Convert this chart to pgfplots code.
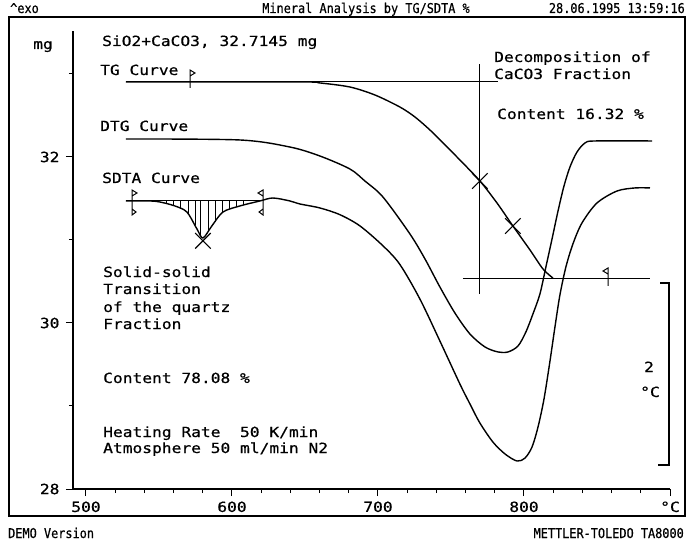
\documentclass[border=0pt]{standalone}
\usepackage{pgfplots}
\pgfplotsset{compat=1.18}
\usepackage{fontspec}
\newfontfamily\plotfont[FakeStretch=1.16,FakeBold=0.6]{DejaVu Sans Mono}
\newfontfamily\hdrfont[FakeStretch=0.88,FakeBold=0.5]{DejaVu Sans Mono}
\newcommand\pf{\plotfont\fontsize{14}{16}\selectfont}
\newcommand\hf{\hdrfont\fontsize{13.5}{16}\selectfont}
\begin{document}
\begin{tikzpicture}[x=1pt,y=1pt]
\useasboundingbox (0,0) rectangle (689,542);
\fill[white] (0,0) rectangle (689,542);
\begin{axis}[
  at={(73pt,53pt)}, anchor=south west,
  scale only axis, width=597pt, height=458pt,
  xmin=491.1, xmax=900, ymin=28, ymax=33.518,
  axis x line=bottom, axis y line=left,
  axis line style={-, line width=1.2pt},
  clip=false,
  xtick={500,600,700,800,900}, xticklabels={500,600,700,800,°C},
  minor xtick={520,540,560,580,620,640,660,680,720,740,760,780,820,840,860,880},
  ytick={28,30,32}, yticklabels={28,30,32}, minor ytick={29,31,33},
  tick align=outside, major tick length=7pt, minor tick length=4pt,
  tick style={black, line width=1pt},
  ticklabel style={font=\pf},
  xticklabel style={yshift=-2pt},
  yticklabel style={xshift=-3pt},
]
% TG curve
\addplot[black, line width=1.4pt, smooth] coordinates {
(527.3,32.904) (646.5,32.904) (660.2,32.892) (680.8,32.843) (697.9,32.747)
(715.0,32.602) (725.3,32.482) (735.6,32.325) (745.9,32.145) (756.1,31.964)
(769.8,31.711) (781.5,31.446) (792.4,31.169) (804.1,30.880) (813.0,30.651)
(819.8,30.542)};
% TG construction lines
\addplot[black, line width=1pt] coordinates {(527.3,32.904) (782.2,32.904)};
\addplot[black, line width=1pt] coordinates {(758.2,30.542) (886.3,30.542)};
\addplot[black, line width=1pt] coordinates {(769.8,33.120) (769.8,30.349)};
% DTG curve
\addplot[black, line width=1.4pt, smooth] coordinates {
(527.3,32.217) (605.4,32.205) (639.7,32.120) (660.2,32.012) (680.8,31.855)
(691.0,31.711) (703.4,31.518) (721.9,31.072) (732.2,30.771) (742.4,30.434)
(752.7,30.120) (763.0,29.867) (773.3,29.711) (782.2,29.651) (789.0,29.651)
(795.9,29.723) (801.3,29.892) (806.1,30.108) (810.9,30.349) (815.0,30.675)
(819.2,31.012) (823.3,31.349) (827.4,31.651) (831.5,31.880) (836.3,32.060)
(841.8,32.169) (848.6,32.193) (887.7,32.193)};
% SDTA curve
\addplot[black, line width=1.4pt, smooth, tension=0.5] coordinates {
(527.3,31.470) (543.8,31.470) (550.6,31.458) (560.9,31.410) (569.1,31.337)
(576.0,31.133) (580.1,31.024) (586.2,31.169) (593.8,31.337) (605.4,31.410)
(619.1,31.470) (628.0,31.506) (639.7,31.470) (646.5,31.434) (660.2,31.386)
(673.9,31.305) (687.6,31.170) (703.4,30.930) (715.0,30.705) (728.7,30.289)
(742.4,29.783) (756.1,29.265) (763.0,29.024) (769.8,28.795) (778.7,28.566)
(787.0,28.422) (795.2,28.337) (800.7,28.373) (805.5,28.506) (809.6,28.747)
(813.7,29.084) (817.8,29.542) (821.2,29.952) (824.6,30.337) (828.7,30.675)
(833.5,30.952) (839.7,31.205) (850.0,31.446) (863.7,31.590) (876.0,31.627)
(886.3,31.627)};
% SDTA baseline
\addplot[black, line width=1pt] coordinates {(527.3,31.470) (621.2,31.470)};
% hatching of the integrated peak
\addplot[black, line width=0.8pt, unbounded coords=jump] coordinates {
(555.4,31.470) (555.4,31.434) (555.4,nan)
(560.2,31.470) (560.2,31.410) (560.2,nan)
(565.0,31.470) (565.0,31.373) (565.0,nan)
(569.8,31.470) (569.8,31.313) (569.8,nan)
(574.6,31.470) (574.6,31.181) (574.6,nan)
(578.7,31.470) (578.7,31.060) (578.7,nan)
(583.5,31.470) (583.5,31.108) (583.5,nan)
(588.3,31.470) (588.3,31.217) (588.3,nan)
(593.1,31.470) (593.1,31.325) (593.1,nan)
(597.9,31.470) (597.9,31.373) (597.9,nan)
(602.7,31.470) (602.7,31.398) (602.7,nan)
(607.5,31.470) (607.5,31.422)};
% crosses
\addplot[black, only marks, mark=x, mark size=11pt, mark options={line width=1.1pt}] coordinates {
(769.8,31.711) (792.4,31.169) (580.1,30.990)};
\end{axis}
% frame
\draw[line width=1.1pt] (9,525) rectangle (685,26);
% header / footer
\node[anchor=base west, inner sep=0pt, font=\hf] at (10,529) {\textasciicircum exo};
\node[anchor=base, inner sep=0pt, font=\hf] at (366,529) {Mineral Analysis by TG/SDTA \%};
\node[anchor=base east, inner sep=0pt, font=\hf] at (685,529) {28.06.1995 13:59:16};
\node[anchor=base west, inner sep=0pt, font=\hf] at (8,4) {DEMO Version};
\node[anchor=base east, inner sep=0pt, font=\hf] at (684,4) {METTLER-TOLEDO TA8000};
% unit
\node[anchor=base, inner sep=0pt, font=\pf] at (43,493) {mg};
% annotations
\begin{scope}[every node/.style={anchor=base west, inner sep=0pt, font=\pf}]
\node at (102,496) {SiO2+CaCO3, 32.7145 mg};
\node at (100,467) {TG Curve};
\node at (100,411) {DTG Curve};
\node at (102,359) {SDTA Curve};
\node at (103,265) {Solid-solid};
\node at (103,248) {Transition};
\node at (103,230) {of the quartz};
\node at (103,213) {Fraction};
\node at (103,159) {Content 78.08 \%};
\node at (103,105) {Heating Rate\ \ 50 K/min};
\node at (103,89) {Atmosphere 50 ml/min N2};
\node at (494,480) {Decomposition of};
\node at (494,463) {CaCO3 Fraction};
\node at (497,423) {Content 16.32 \%};
\end{scope}
\node[anchor=base, inner sep=0pt, font=\pf] at (649,170) {2};
\node[anchor=base, inner sep=0pt, font=\pf] at (650,145) {°C};
% flags
\draw[line width=1pt] (190,454) -- (190,472) -- (195,469) -- (190,466);
\draw[line width=1pt] (608,256) -- (608,274) -- (603,271) -- (608,268);
\draw[line width=1pt] (132,346) -- (137,349) -- (132,352) -- (132,327) -- (136,330) -- (132,333);
\draw[line width=1pt] (263,346) -- (258,349) -- (263,352) -- (263,327) -- (259,330) -- (263,333);
% scale bracket
\draw[line width=1.1pt] (660,259) -- (669,259) -- (669,77) -- (658,77);
\end{tikzpicture}
\end{document}
